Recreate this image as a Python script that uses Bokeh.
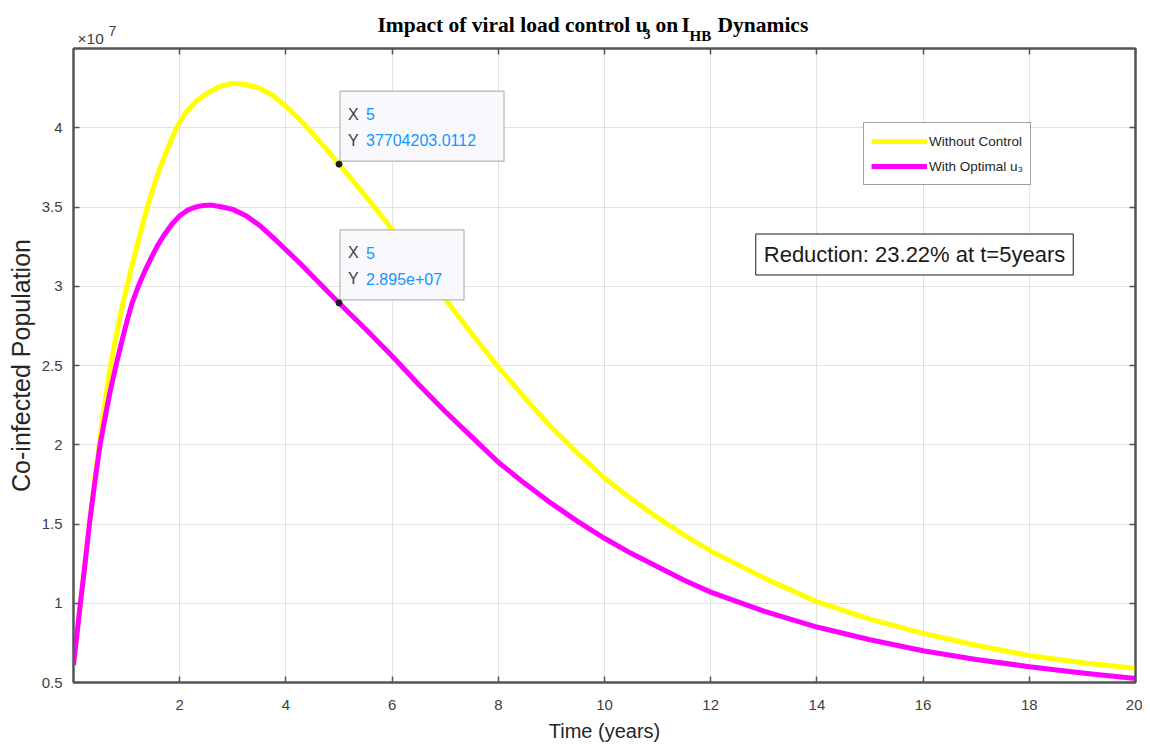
from bokeh.plotting import figure
from bokeh.layouts import column
from bokeh.models import Range1d, FixedTicker, LinearAxis, Label, Legend, LegendItem
from bokeh.embed import file_html
from bokeh.resources import INLINE

# ---------------- data (values in units of 1e7) ----------------
t_without = [0, 0.07, 0.13, 0.2, 0.3, 0.4, 0.5, 0.6, 0.7, 0.8, 0.9, 1.0, 1.1, 1.2, 1.3,
             1.39, 1.5, 1.63, 1.8, 1.94, 2.1, 2.3, 2.5, 2.75, 3.0, 3.25, 3.5, 3.75, 4.0,
             4.25, 4.5, 4.75, 5.0, 5.5, 6, 6.5, 7, 7.5, 8, 8.5, 9, 9.5, 10, 10.5, 11,
             11.5, 12, 13, 14, 15, 16, 17, 18, 19, 20]
y_without = [0.61, 0.82, 1.0, 1.2, 1.5, 1.78, 2.04, 2.29, 2.5, 2.68, 2.85, 2.99, 3.13,
             3.26, 3.385, 3.5, 3.62, 3.75, 3.89, 4.0, 4.09, 4.165, 4.215, 4.26, 4.28,
             4.273, 4.25, 4.205, 4.135, 4.055, 3.965, 3.87, 3.7704203, 3.57, 3.36, 3.14,
             2.92, 2.70, 2.49, 2.295, 2.11, 1.945, 1.79, 1.66, 1.54, 1.43, 1.33, 1.16,
             1.01, 0.90, 0.81, 0.735, 0.67, 0.625, 0.59]

t_with = [0, 0.07, 0.13, 0.2, 0.3, 0.4, 0.5, 0.6, 0.68, 0.8, 0.9, 1.0, 1.1, 1.22, 1.35,
          1.45, 1.58, 1.7, 1.85, 2.0, 2.15, 2.3, 2.45, 2.6, 2.8, 3.0, 3.25, 3.5, 3.75,
          4.0, 4.25, 4.5, 4.75, 5.0, 5.5, 6, 6.5, 7, 7.5, 8, 8.5, 9, 9.5, 10, 10.5, 11,
          11.5, 12, 13, 14, 15, 16, 17, 18, 19, 20]
y_with = [0.61, 0.82, 1.0, 1.2, 1.5, 1.76, 2.0, 2.18, 2.32, 2.5, 2.64, 2.77, 2.89, 3.0,
          3.1, 3.17, 3.255, 3.32, 3.39, 3.445, 3.48, 3.50, 3.51, 3.512, 3.50, 3.485,
          3.445, 3.385, 3.31, 3.23, 3.15, 3.065, 2.98, 2.895, 2.73, 2.56, 2.38, 2.21,
          2.05, 1.89, 1.755, 1.63, 1.515, 1.41, 1.315, 1.23, 1.145, 1.07, 0.95, 0.85,
          0.77, 0.70, 0.645, 0.60, 0.56, 0.525]

x_ticks = [2, 4, 6, 8, 10, 12, 14, 16, 18, 20]
y_ticks = [0.5, 1, 1.5, 2, 2.5, 3, 3.5, 4]
y_tick_labels = ["0.5", "1", "1.5", "2", "2.5", "3", "3.5", "4"]

series_labels = ["Without Control", "With Optimal u\u2083"]
tip_time = 5.0
tip_without_text = "37704203.0112"
tip_with_text = "2.895e+07"

X_RANGE = (0, 20)
Y_RANGE = (0.5, 4.5)

# ---------------- layout constants ----------------
FW, FH = 1062, 634
FL, FR, FB = 73, 7, 64
TITLE_H = 46
FT = 2
REF_FRAME_LEFT, REF_FRAME_TOP = 73, 48   # frame corner in the reference picture


def sx(X):
    return X_RANGE[0] + (X - REF_FRAME_LEFT) / FW * (X_RANGE[1] - X_RANGE[0])


def sy(Y):
    return Y_RANGE[1] - (Y - REF_FRAME_TOP) / FH * (Y_RANGE[1] - Y_RANGE[0])


def dx(px):
    return px / FW * (X_RANGE[1] - X_RANGE[0])


def dy(px):
    return px / FH * (Y_RANGE[1] - Y_RANGE[0])


SANS = "Liberation Sans"
SERIF = "Liberation Serif"
AX = "#555555"

# ---------------- title strip (frame aligned with the main frame) ----------------
pt = figure(frame_width=FW, frame_height=TITLE_H,
            x_range=Range1d(0, FW), y_range=Range1d(TITLE_H, 0),
            output_backend="svg", toolbar_location=None, title=None,
            min_border_left=FL, min_border_right=FR, min_border_top=0, min_border_bottom=0,
            x_axis_location=None, y_axis_location=None,
            background_fill_color="white", border_fill_color="white")
pt.outline_line_color = None
pt.grid.visible = False


def tx(X):
    return X - REF_FRAME_LEFT


title_parts = [
    ("Impact of viral load control u", 377, 24, "21.5px"),
    ("3", 643, 33, "14px"),
    ("on", 655, 24, "21.5px"),
    ("I", 681, 24, "21.5px"),
    ("HB", 689, 35.5, "15px"),
    ("Dynamics", 717, 24, "21.5px"),
]
for txt, X, Y, fs in title_parts:
    pt.add_layout(Label(x=tx(X), y=Y, text=txt, text_font=SERIF, text_font_style="bold",
                        text_font_size=fs, text_color="#000000", text_baseline="middle"))

pt.add_layout(Label(x=tx(77), y=37.5, text="\u00d710", text_font=SANS, text_font_size="15.5px",
                    text_color="#404040", text_baseline="middle"))
pt.add_layout(Label(x=tx(108), y=30, text="7", text_font=SANS, text_font_size="14px",
                    text_color="#404040", text_baseline="middle"))

# ---------------- main plot ----------------
p = figure(frame_width=FW, frame_height=FH,
           x_range=Range1d(*X_RANGE), y_range=Range1d(*Y_RANGE),
           output_backend="svg", toolbar_location=None, title=None,
           min_border_left=FL, min_border_right=FR, min_border_top=FT, min_border_bottom=FB,
           background_fill_color="white", border_fill_color="white")
p.outline_line_color = AX
p.outline_line_width = 2

p.xaxis.ticker = FixedTicker(ticks=x_ticks)
p.yaxis.ticker = FixedTicker(ticks=y_ticks)
p.yaxis.major_label_overrides = {t: l for t, l in zip(y_ticks, y_tick_labels)}
for ax in (p.xaxis[0], p.yaxis[0]):
    ax.major_tick_in = 6
    ax.major_tick_out = 0
    ax.minor_tick_in = 0
    ax.minor_tick_out = 0
    ax.axis_line_color = AX
    ax.axis_line_width = 2
    ax.major_tick_line_color = AX
    ax.major_tick_line_width = 1.5
    ax.major_label_text_font = SANS
    ax.major_label_text_font_size = "15px"
    ax.major_label_text_color = "#404040"
    ax.axis_label_text_font = SANS
    ax.axis_label_text_font_style = "normal"
    ax.axis_label_text_color = "#262626"
p.xaxis.major_label_standoff = 17
p.yaxis.major_label_standoff = 11
p.xaxis.axis_label = "Time (years)"
p.xaxis.axis_label_text_font_size = "20px"
p.xaxis.axis_label_standoff = 7
p.yaxis.axis_label = "Co-infected Population"
p.yaxis.axis_label_text_font_size = "25px"
p.yaxis.axis_label_standoff = 4

for side, tk in (("above", x_ticks), ("right", y_ticks)):
    a = LinearAxis(ticker=FixedTicker(ticks=tk), major_tick_in=6, major_tick_out=0,
                   minor_tick_in=0, minor_tick_out=0, major_label_text_font_size="0px",
                   major_label_text_color=None, major_label_standoff=0,
                   axis_line_color=AX, axis_line_width=2,
                   major_tick_line_color=AX, major_tick_line_width=1.5)
    p.add_layout(a, side)

p.xgrid.grid_line_color = "#e2e2e2"
p.ygrid.grid_line_color = "#e2e2e2"

r1 = p.line(t_without, y_without, line_color="#FFFF00", line_width=5, line_join="round")
r2 = p.line(t_with, y_with, line_color="#FF00FF", line_width=5, line_join="round")

legend = Legend(items=[LegendItem(label=series_labels[0], renderers=[r1]),
                       LegendItem(label=series_labels[1], renderers=[r2])],
                location=(790, 497), padding=7, spacing=3, margin=0,
                glyph_width=56, glyph_height=22, label_height=22, label_standoff=2,
                label_text_font=SANS, label_text_font_size="13.5px", label_text_color="#262626",
                border_line_color="#404040", border_line_width=1,
                background_fill_color="white", background_fill_alpha=1)
p.add_layout(legend)

# data tips
v_without5 = y_without[t_without.index(tip_time)]
v_with5 = y_with[t_with.index(tip_time)]
for v, txt, wpx in ((v_without5, tip_without_text, 165), (v_with5, tip_with_text, 125)):
    p.quad(left=[tip_time + dx(1)], right=[tip_time + dx(wpx)],
           bottom=[v + dy(3)], top=[v + dy(73)],
           fill_color="#f9f9fd", line_color="#b5b5b5", line_width=1.2)
    p.scatter([tip_time], [v], size=6, color="#1a1a1a")
    p.add_layout(Label(x=tip_time + dx(9), y=v + dy(50), text="X", text_font=SANS,
                       text_font_size="16px", text_color="#404040", text_baseline="middle"))
    p.add_layout(Label(x=tip_time + dx(27), y=v + dy(50), text="5", text_font=SANS,
                       text_font_size="16px", text_color="#1296ff", text_baseline="middle"))
    p.add_layout(Label(x=tip_time + dx(9), y=v + dy(24), text="Y", text_font=SANS,
                       text_font_size="16px", text_color="#404040", text_baseline="middle"))
    p.add_layout(Label(x=tip_time + dx(27), y=v + dy(24), text=txt, text_font=SANS,
                       text_font_size="16px", text_color="#1296ff", text_baseline="middle"))

pct = (v_without5 - v_with5) / v_without5 * 100
p.add_layout(Label(x=sx(914), y=sy(254), text=f"Reduction: {pct:.2f}% at t={tip_time:g}years",
                   text_font=SANS, text_font_size="22px", text_color="#1a1a1a",
                   text_align="center", text_baseline="middle",
                   background_fill_color="white", border_line_color="#1a1a1a",
                   border_line_width=1, padding=8))

layout = column(pt, p, spacing=0)
open("out.html", "w").write(file_html(layout, INLINE))
